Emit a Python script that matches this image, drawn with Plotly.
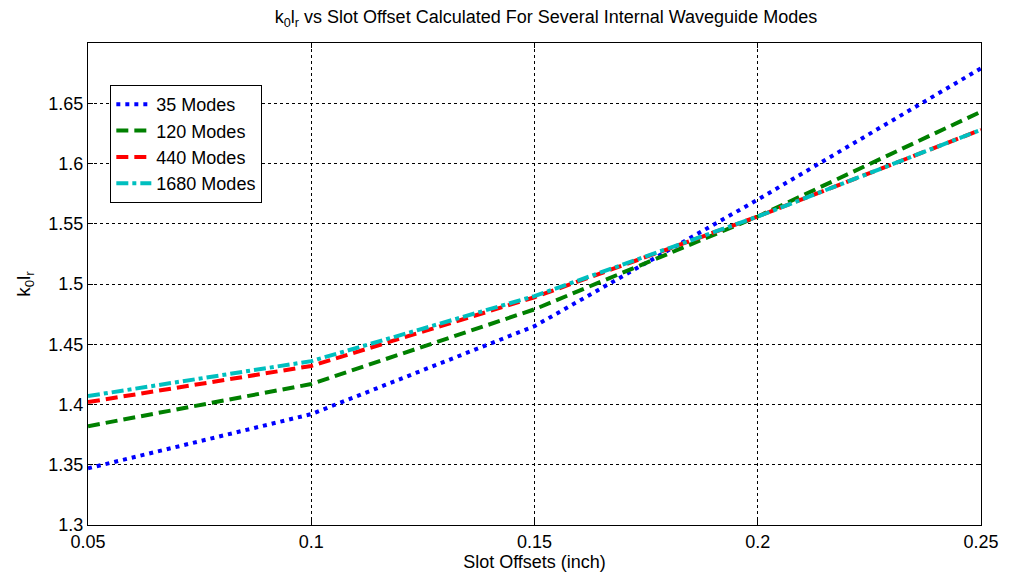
import plotly.graph_objects as go

offsets = [0.05, 0.10, 0.15, 0.20, 0.25]
modes_35 = [1.347, 1.392, 1.465, 1.570, 1.679]
modes_120 = [1.382, 1.417, 1.479, 1.556, 1.643]
modes_440 = [1.402, 1.432, 1.489, 1.556, 1.628]
modes_1680 = [1.407, 1.436, 1.490, 1.556, 1.628]

x_ticks = [0.05, 0.1, 0.15, 0.2, 0.25]
x_tick_text = ["0.05", "0.1", "0.15", "0.2", "0.25"]
y_ticks = [1.3, 1.35, 1.4, 1.45, 1.5, 1.55, 1.6, 1.65]
y_tick_text = ["1.3", "1.35", "1.4", "1.45", "1.5", "1.55", "1.6", "1.65"]

series = [
    ("35 Modes", modes_35, "#0000FF", "4px,5px"),
    ("120 Modes", modes_120, "#008000", "12px,6px"),
    ("440 Modes", modes_440, "#FF0000", "12px,6px"),
    ("1680 Modes", modes_1680, "#00BFBF", "12px,4px,4px,4px"),
]

fig = go.Figure()
for name, vals, color, dash in series:
    fig.add_trace(go.Scatter(
        x=offsets, y=vals, mode="lines", name=name,
        line=dict(color=color, width=4, dash=dash),
    ))

font_family = "Liberation Sans, Arial, sans-serif"
fig.update_layout(
    width=1011, height=578,
    paper_bgcolor="white", plot_bgcolor="white",
    margin=dict(l=88, r=28, t=43, b=53),
    font=dict(family=font_family, size=18, color="black"),
    title=dict(
        text="k<sub>0</sub>l<sub>r</sub> vs Slot Offset Calculated For Several Internal Waveguide Modes",
        x=0.54, xanchor="center", y=0.982, yanchor="top",
        font=dict(size=18, family=font_family),
    ),
    showlegend=True,
    legend=dict(
        x=0.025, y=0.913, xanchor="left", yanchor="top",
        bgcolor="white", bordercolor="black", borderwidth=1,
        font=dict(size=18, family=font_family),
        tracegroupgap=0, itemwidth=35,
    ),
)
fig.update_xaxes(
    range=[0.05, 0.25], tickvals=x_ticks, ticktext=x_tick_text,
    showgrid=True, gridcolor="black", griddash="dot", gridwidth=1,
    showline=True, linecolor="black", linewidth=1, mirror="ticks",
    ticks="inside", ticklen=5, tickcolor="black", zeroline=False,
    tickfont=dict(size=18),
    title=dict(text="Slot Offsets (inch)", standoff=0, font=dict(size=18)),
)
fig.update_yaxes(
    range=[1.3, 1.7], tickvals=y_ticks, ticktext=y_tick_text,
    showgrid=True, gridcolor="black", griddash="dot", gridwidth=1,
    showline=True, linecolor="black", linewidth=1, mirror="ticks",
    ticks="inside", ticklen=5, tickcolor="black", zeroline=False,
    tickfont=dict(size=18),
    title=dict(text="k<sub>0</sub>l<sub>r</sub>", standoff=12, font=dict(size=19)),
)

fig.write_html("out.html")
